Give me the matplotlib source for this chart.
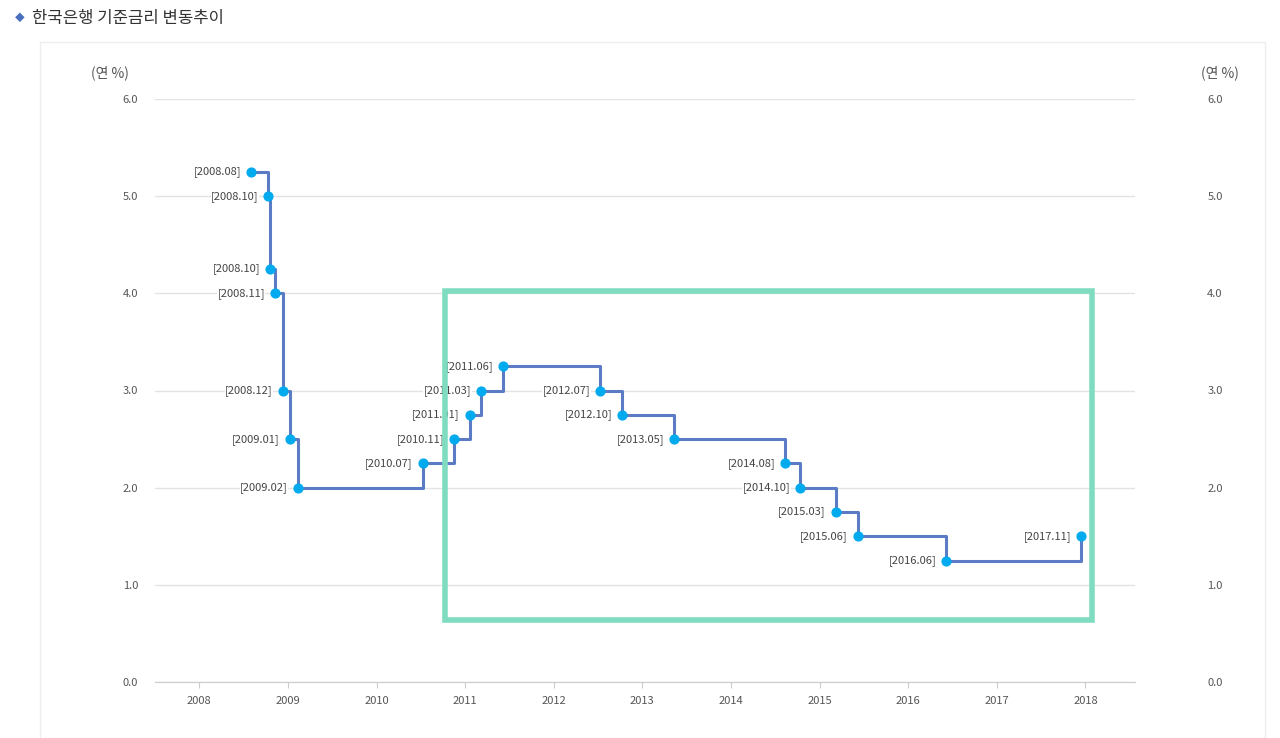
import matplotlib
matplotlib.use("Agg")
import matplotlib.pyplot as plt
from matplotlib.patches import Rectangle

plt.rcParams['font.family'] = ['Noto Sans CJK KR', 'DejaVu Sans']

labels = ["2008.08","2008.10","2008.10","2008.11","2008.12","2009.01","2009.02","2010.07",
          "2010.11","2011.01","2011.03","2011.06","2012.07","2012.10","2013.05","2014.08",
          "2014.10","2015.03","2015.06","2016.06","2017.11"]
rates = [5.25,5.00,4.25,4.00,3.00,2.50,2.00,2.25,2.50,2.75,3.00,3.25,3.00,2.75,2.50,2.25,
         2.00,1.75,1.50,1.25,1.50]
xpos = [2008.58,2008.78,2008.80,2008.85,2008.94,2009.02,2009.11,2010.52,2010.87,2011.05,
        2011.18,2011.43,2012.52,2012.77,2013.36,2014.61,2014.78,2015.18,2015.43,2016.43,2017.95]
years = list(range(2008, 2019))
yticks = [0.0,1.0,2.0,3.0,4.0,5.0,6.0]

fig = plt.figure(figsize=(12.8,7.38), dpi=100)
fig.patches.append(Rectangle((40/1280,0),1225/1280,1-42/738,transform=fig.transFigure,
                             fill=False,ec='#eeeeee',lw=1))
fig.text(15/1280,1-18/738,"◆",color='#4a6fbf',fontsize=7,va='center')
fig.text(32/1280,1-18/738,"한국은행 기준금리 변동추이",color='#333333',fontsize=12,va='center')

ax = fig.add_axes([155/1280,1-682/738,980/1280,583/738])
ax.step(xpos, rates, where='post', color='#5b7bc4', lw=2.2, zorder=2)
ax.scatter(xpos, rates, s=40, color='#00aaee', zorder=3)
for x,y,l in zip(xpos,rates,labels):
    ax.annotate(f"[{l}]",(x,y),xytext=(-7,0),textcoords='offset points',ha='right',va='center',
                fontsize=8,color='#444444',zorder=5,
                bbox=dict(boxstyle='square,pad=0.05',fc='white',ec='none'))
ax.set_xlim(2007.5,2018.56)
ax.set_ylim(0,6)
ax.set_xticks(years)
ax.set_xticklabels([str(y) for y in years],fontsize=8,color='#555555')
ax.set_yticks(yticks)
ax.set_yticklabels([f"{v:.1f}" for v in yticks],fontsize=8,color='#555555')
ax.grid(axis='y',color='#e3e3e3',lw=1)
ax.set_axisbelow(True)
for s in ['top','right','left']:
    ax.spines[s].set_visible(False)
ax.spines['bottom'].set_color('#cccccc')
ax.tick_params(axis='y',length=0,pad=12)
ax.tick_params(axis='x',length=4,color='#cccccc',pad=6)
ax2 = ax.twinx()
ax2.set_ylim(0,6)
ax2.set_yticks(yticks)
ax2.set_yticklabels([f"{v:.1f}" for v in yticks],fontsize=8,color='#555555')
ax2.tick_params(axis='y',length=0,pad=52)
for s in ax2.spines.values():
    s.set_visible(False)
fig.text(110/1280,1-73/738,"(연 %)",fontsize=10,color='#555555',ha='center',va='center')
fig.text(1220/1280,1-73/738,"(연 %)",fontsize=10,color='#555555',ha='center',va='center')
ax.add_patch(Rectangle((2010.77,0.64),7.31,3.38,fill=False,ec='#7fdcc0',lw=4,clip_on=False,zorder=6))
fig.savefig("out.png",dpi=100)
